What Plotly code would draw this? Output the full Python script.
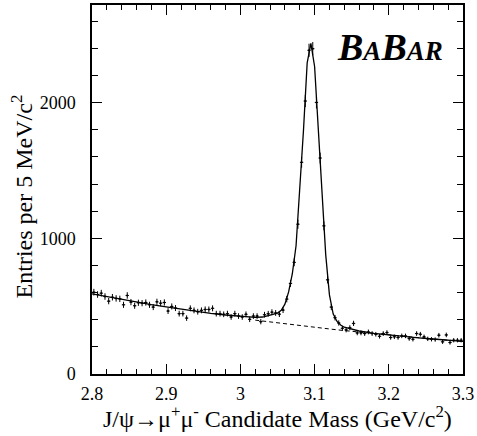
import numpy as np
import plotly.graph_objects as go

# 100 bins of 5 MeV between 2.80 and 3.30 GeV/c^2
bin_lo = 2.80
bin_width = 0.005
counts = [603, 586, 596, 571, 537, 566, 557, 554, 510, 579,
          530, 503, 525, 522, 527, 510, 493, 532, 522, 527,
          464, 498, 486, 445, 445, 412, 484, 469, 459, 469,
          476, 476, 484, 445, 445, 440, 445, 420, 445, 427,
          420, 440, 403, 427, 427, 386, 437, 444, 456, 450,
          441, 471, 552, 668, 823, 1104, 1560, 2012, 2386, 2398,
          2002, 1592, 1092, 694, 493, 415, 376, 337, 325, 341,
          373, 303, 303, 298, 310, 298, 293, 278, 298, 305,
          269, 274, 269, 281, 281, 261, 256, 298, 293, 274,
          259, 256, 254, 286, 237, 288, 232, 249, 249, 249]
centres = [round(bin_lo + bin_width * (i + 0.5), 4) for i in range(len(counts))]
errors = list(np.sqrt(counts))  # Poisson errors

# Fit curve (signal + background)
fit_x = [2.80, 2.82, 2.84, 2.86, 2.88, 2.90, 2.92, 2.94, 2.96, 2.98, 3.00, 3.02, 3.03,
         3.04, 3.045, 3.05, 3.055, 3.06, 3.065, 3.07, 3.075, 3.08, 3.085, 3.09, 3.095,
         3.10, 3.105, 3.11, 3.115, 3.12, 3.125, 3.13, 3.135, 3.14, 3.15, 3.16, 3.18,
         3.20, 3.22, 3.24, 3.26, 3.28, 3.30]
fit_y = [590, 569, 549, 530, 511, 494, 477, 461, 447, 435, 425, 418, 420,
         432, 439, 449, 470, 515, 605, 739, 945, 1339, 1795, 2294, 2437,
         2267, 1783, 1320, 878, 583, 444, 389, 361, 345, 329, 317, 300,
         288, 277, 267, 258, 249, 240]

# Background component (dashed)
bkg_x = [3.02, 3.04, 3.06, 3.08, 3.10, 3.12, 3.14, 3.16, 3.18, 3.20, 3.22, 3.24, 3.26, 3.28, 3.30]
bkg_y = [397, 383, 370, 357, 344, 332, 320, 309, 298, 287, 277, 267, 258, 249, 240]

x_ticks = [2.8, 2.9, 3.0, 3.1, 3.2, 3.3]
y_ticks = [0, 1000, 2000]

FONT = "Liberation Serif"

fig = go.Figure()
fig.add_trace(go.Scatter(x=bkg_x, y=bkg_y, mode="lines",
                         line=dict(color="black", width=1, dash="4px,3px"),
                         hoverinfo="skip", showlegend=False))
fig.add_trace(go.Scatter(x=fit_x, y=fit_y, mode="lines",
                         line=dict(color="black", width=1.3),
                         hoverinfo="skip", showlegend=False))
fig.add_trace(go.Scatter(x=centres, y=counts, mode="markers",
                         marker=dict(color="black", size=2),
                         error_y=dict(type="data", array=errors, color="black", thickness=1, width=0),
                         error_x=dict(type="constant", value=bin_width / 2 * 0.9, color="black", thickness=1, width=0),
                         showlegend=False))

axis_common = dict(showline=True, linecolor="black", linewidth=1.5, mirror="ticks",
                   ticks="inside", tickcolor="black", tickwidth=1, showgrid=False,
                   zeroline=False, tickfont=dict(family=FONT, size=18, color="black"))

fig.update_xaxes(range=[2.8, 3.3], tickvals=x_ticks, ticklen=10, ticklabelstandoff=3,
                 minor=dict(dtick=0.02, tick0=2.8, ticks="inside", ticklen=5, tickcolor="black", tickwidth=1),
                 **axis_common)
fig.update_yaxes(range=[0, 2720], tickvals=y_ticks, ticklen=10, ticklabelstandoff=11,
                 minor=dict(dtick=200, tick0=0, ticks="inside", ticklen=6, tickcolor="black", tickwidth=1),
                 **axis_common)

# Axis titles
fig.add_annotation(xref="paper", yref="paper", x=0.5, y=-0.116, xanchor="center", yanchor="middle",
                   text="J/ψ→μ<sup>+</sup>μ<sup>-</sup> Candidate Mass (GeV/c<sup>2</sup>)",
                   showarrow=False, font=dict(family=FONT, size=24, color="black"))
fig.add_annotation(xref="paper", yref="paper", x=-0.188, y=0.482, xanchor="center", yanchor="middle",
                   textangle=-90, text="Entries per 5 MeV/c<sup>2</sup>", showarrow=False,
                   font=dict(family=FONT, size=24, color="black"))

# Experiment logo
fig.add_annotation(xref="paper", yref="paper", x=0.9515, y=0.948, xanchor="right", yanchor="top",
                   text="<b><i>B<span style='font-size:27px'>A</span>B<span style='font-size:27px'>AR</span></i></b>",
                   showarrow=False, font=dict(family=FONT, size=38, color="black"))

fig.update_layout(width=477, height=436, margin=dict(l=92, r=14, t=3, b=62),
                  plot_bgcolor="white", paper_bgcolor="white")

fig.write_html("out.html")
